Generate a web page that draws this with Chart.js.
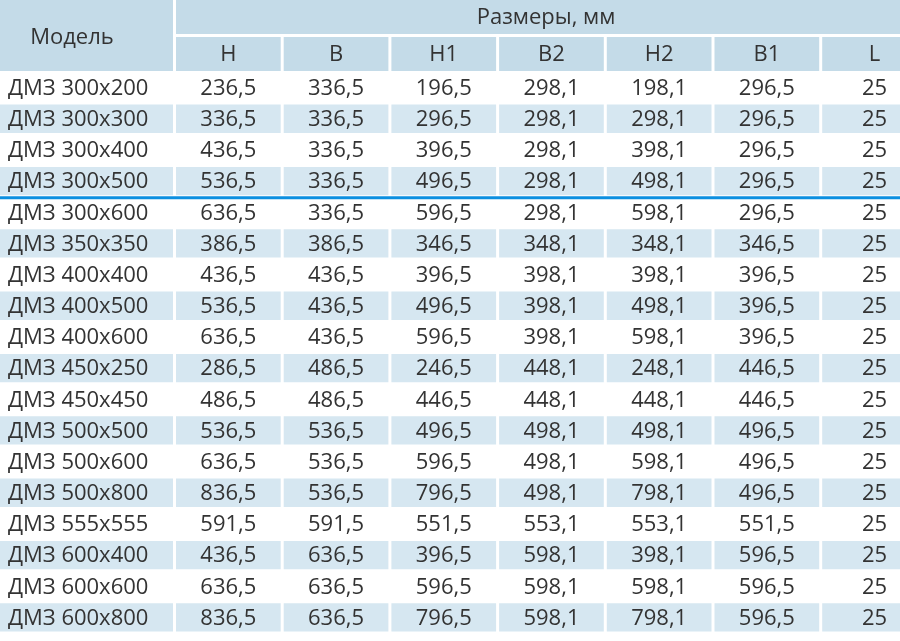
<!DOCTYPE html>
<html>
<head>
<meta charset="utf-8">
<script src="https://cdn.jsdelivr.net/npm/chart.js@4"></script>
<style>
  body { margin: 0; background: #fff; }
  #wrap { width: 900px; height: 641px; position: relative; }
</style>
</head>
<body>
<div id="wrap"><canvas id="tbl"></canvas></div>
<script>
// table data
var models = ['ДМЗ 300x200', 'ДМЗ 300x300', 'ДМЗ 300x400', 'ДМЗ 300x500', 'ДМЗ 300x600',
    'ДМЗ 350x350', 'ДМЗ 400x400', 'ДМЗ 400x500', 'ДМЗ 400x600', 'ДМЗ 450x250',
    'ДМЗ 450x450', 'ДМЗ 500x500', 'ДМЗ 500x600', 'ДМЗ 500x800', 'ДМЗ 555x555',
    'ДМЗ 600x400', 'ДМЗ 600x600', 'ДМЗ 600x800'];
var H  = [236.5, 336.5, 436.5, 536.5, 636.5, 386.5, 436.5, 536.5, 636.5, 286.5, 486.5, 536.5, 636.5, 836.5, 591.5, 436.5, 636.5, 836.5];
var B  = [336.5, 336.5, 336.5, 336.5, 336.5, 386.5, 436.5, 436.5, 436.5, 486.5, 486.5, 536.5, 536.5, 536.5, 591.5, 636.5, 636.5, 636.5];
var H1 = [196.5, 296.5, 396.5, 496.5, 596.5, 346.5, 396.5, 496.5, 596.5, 246.5, 446.5, 496.5, 596.5, 796.5, 551.5, 396.5, 596.5, 796.5];
var B2 = [298.1, 298.1, 298.1, 298.1, 298.1, 348.1, 398.1, 398.1, 398.1, 448.1, 448.1, 498.1, 498.1, 498.1, 553.1, 598.1, 598.1, 598.1];
var H2 = [198.1, 298.1, 398.1, 498.1, 598.1, 348.1, 398.1, 498.1, 598.1, 248.1, 448.1, 498.1, 598.1, 798.1, 553.1, 398.1, 598.1, 798.1];
var B1 = [296.5, 296.5, 296.5, 296.5, 296.5, 346.5, 396.5, 396.5, 396.5, 446.5, 446.5, 496.5, 496.5, 496.5, 551.5, 596.5, 596.5, 596.5];
var L  = [25, 25, 25, 25, 25, 25, 25, 25, 25, 25, 25, 25, 25, 25, 25, 25, 25, 25];

var columnLabels = ['H', 'B', 'H1', 'B2', 'H2', 'B1', 'L'];
var columnValues = [H, B, H1, B2, H2, B1, L];
var modelTitle = 'Модель';
var groupTitle = 'Размеры, мм';
var groupBreakAfter = 3; // blue line under this row

// layout
var MODEL_W = 176, COL_W = 107.7, GAP = 3, X_MAX = 900;
var HDR1 = [0, 34], HDR2 = [37, 71];
var HEADER_BG = '#c4dbe8', ROW_BG = '#d6e7f1', LINE_COLOR = '#0b8fe0';
var TEXT_COLOR = '#333333';
var FONT = '"Open Sans", "Noto Sans", sans-serif';
var FONT_SIZE = 22;

function colStart(j) { return MODEL_W + COL_W * j; }
function colEnd(j) { return colStart(j) + COL_W - GAP; }
function fmt(v) {
    return Number.isInteger(v) ? String(v) : v.toFixed(1).replace('.', ',');
}
function rowColor(ctx) {
    return ctx.dataIndex % 2 ? ROW_BG : '#ffffff';
}

// one floating bar per cell
var datasets = [{
    label: modelTitle,
    data: models.map(function () { return [0, MODEL_W - GAP]; }),
    backgroundColor: rowColor
}];
columnLabels.forEach(function (lbl, j) {
    datasets.push({
        label: lbl,
        data: columnValues[j].map(function () { return [colStart(j), Math.min(colEnd(j), X_MAX)]; }),
        backgroundColor: rowColor
    });
});

var tablePlugin = {
    id: 'tableText',
    afterDatasetsDraw: function (chart) {
        var ctx = chart.ctx, xs = chart.scales.x, ys = chart.scales.y;
        ctx.save();
        // header cells
        ctx.fillStyle = HEADER_BG;
        var x0 = xs.getPixelForValue(0), x1 = xs.getPixelForValue(MODEL_W - GAP);
        ctx.fillRect(x0, HDR1[0], x1 - x0, HDR2[1] - HDR1[0]);
        var gx0 = xs.getPixelForValue(colStart(0)), gx1 = xs.getPixelForValue(X_MAX);
        ctx.fillRect(gx0, HDR1[0], gx1 - gx0, HDR1[1] - HDR1[0]);
        columnLabels.forEach(function (lbl, j) {
            var a = xs.getPixelForValue(colStart(j)), b = xs.getPixelForValue(Math.min(colEnd(j), X_MAX));
            ctx.fillRect(a, HDR2[0], b - a, HDR2[1] - HDR2[0]);
        });

        ctx.fillStyle = TEXT_COLOR;
        ctx.font = FONT_SIZE + 'px ' + FONT;
        ctx.textBaseline = 'middle';
        ctx.textAlign = 'center';
        ctx.fillText(modelTitle, xs.getPixelForValue(72), (HDR1[0] + HDR2[1]) / 2 + 2);
        ctx.fillText(groupTitle, xs.getPixelForValue(546), (HDR1[0] + HDR1[1]) / 2 + 1);
        columnLabels.forEach(function (lbl, j) {
            var c = xs.getPixelForValue(colStart(j) + (COL_W - GAP) / 2);
            ctx.fillText(lbl, c, (HDR2[0] + HDR2[1]) / 2 + 1);
        });

        // model names
        ctx.textAlign = 'left';
        models.forEach(function (m, i) {
            ctx.fillText(m, xs.getPixelForValue(8), ys.getPixelForValue(i) + 1);
        });

        // values
        ctx.textAlign = 'center';
        columnValues.forEach(function (vals, j) {
            var c = xs.getPixelForValue(colStart(j) + (COL_W - GAP) / 2);
            vals.forEach(function (v, i) {
                ctx.fillText(fmt(v), c, ys.getPixelForValue(i) + 1);
            });
        });

        // group separator
        var yl = ys.getPixelForValue(groupBreakAfter + 0.5);
        ctx.strokeStyle = LINE_COLOR;
        ctx.lineWidth = 3;
        ctx.beginPath();
        ctx.moveTo(xs.getPixelForValue(0), yl + 1);
        ctx.lineTo(xs.getPixelForValue(X_MAX), yl + 1);
        ctx.stroke();
        ctx.restore();
    }
};

var chart = new Chart(document.getElementById('tbl'), {
    type: 'bar',
    data: { labels: models, datasets: datasets },
    options: {
        indexAxis: 'y',
        responsive: true,
        maintainAspectRatio: false,
        animation: false,
        layout: { padding: { top: 72, bottom: 8, left: 0, right: 0 } },
        datasets: {
            bar: {
                grouped: false,
                categoryPercentage: 1,
                barPercentage: 0.91,
                borderWidth: 0
            }
        },
        plugins: { legend: { display: false }, tooltip: { enabled: false } },
        scales: {
            x: { type: 'linear', min: 0, max: X_MAX, display: false },
            y: { type: 'category', display: false }
        }
    },
    plugins: [tablePlugin]
});
</script>
</body>
</html>
